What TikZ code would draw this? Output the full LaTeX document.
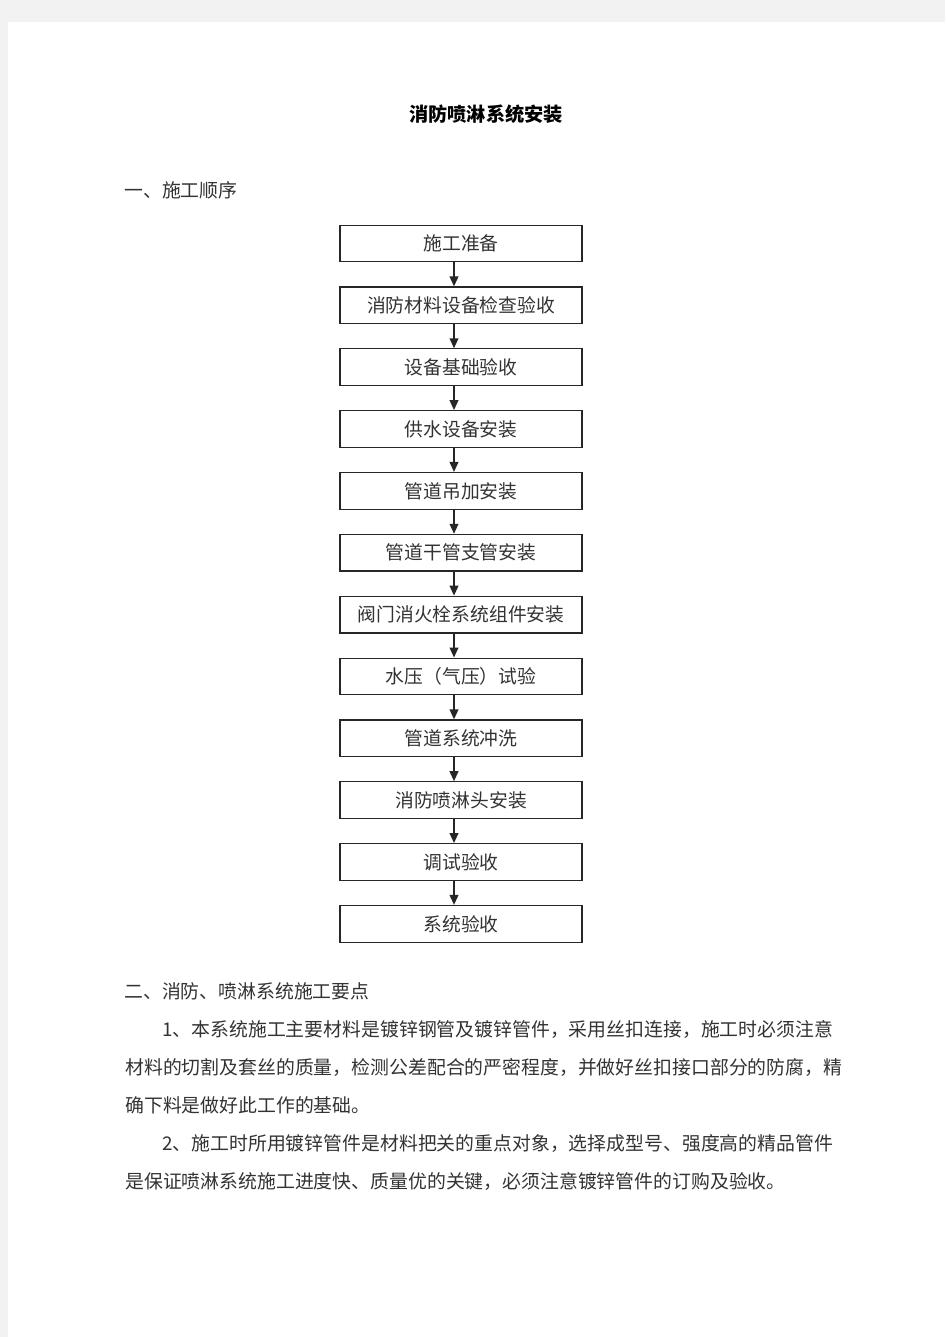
\documentclass[tikz,border=0pt]{standalone}
\usepackage{fontspec}
\newfontfamily\cjk{Noto Sans CJK SC}
\usetikzlibrary{arrows.meta}
\begin{document}
\begin{tikzpicture}[x=0.75pt,y=-0.75pt,
  stepbox/.style={draw=black!85,line width=0.9pt,minimum width=181.5pt,minimum height=27.5pt,inner sep=0pt,font=\cjk\fontsize{14.1pt}{14.1pt}\selectfont,text=black!80},
  arr/.style={draw=black!85,line width=1.3pt,-{Triangle[length=7.5pt,width=6.5pt]}},
  txt/.style={anchor=base west,inner sep=0pt,font=\cjk\fontsize{14.15pt}{14.15pt}\selectfont,text=black!80}]
\useasboundingbox (0,0) rectangle (945,1337);
\fill[black!5] (0,0) rectangle (945,1337);
\fill[white] (8,22) rectangle (945,1337);
\node[anchor=base,inner sep=0pt,font=\cjk\bfseries\fontsize{14.4pt}{14.4pt}\selectfont] (title) at (486,122) {消防喷淋系统安装};
\node[txt] (h1) at (124,198) {一、施工顺序};
\foreach \i/\t in {1/施工准备,2/消防材料设备检查验收,3/设备基础验收,4/供水设备安装,5/管道吊加安装,6/管道干管支管安装,7/阀门消火栓系统组件安装,8/水压（气压）试验,9/管道系统冲洗,10/消防喷淋头安装,11/调试验收,12/系统验收}{
  \node[stepbox] (b\i) at (461,{243.5+61.85*(\i-1)}) {\t};
}
\foreach \i [evaluate=\i as \j using int(\i+1)] in {1,...,11}{
  \draw[arr] ([xshift=-5.25pt]b\i.south) -- ([xshift=-5.25pt]b\j.north);
}
\node[txt] (h2) at (124,998) {二、消防、喷淋系统施工要点};
\node[txt] (p1) at (162,1036) {1、本系统施工主要材料是镀锌钢管及镀锌管件，采用丝扣连接，施工时必须注意};
\node[txt] (p2) at (125,1074) {材料的切割及套丝的质量，检测公差配合的严密程度，并做好丝扣接口部分的防腐，精};
\node[txt] (p3) at (125,1112) {确下料是做好此工作的基础。};
\node[txt] (p4) at (162,1150) {2、施工时所用镀锌管件是材料把关的重点对象，选择成型号、强度高的精品管件};
\node[txt] (p5) at (125,1188) {是保证喷淋系统施工进度快、质量优的关键，必须注意镀锌管件的订购及验收。};
\end{tikzpicture}
\end{document}
